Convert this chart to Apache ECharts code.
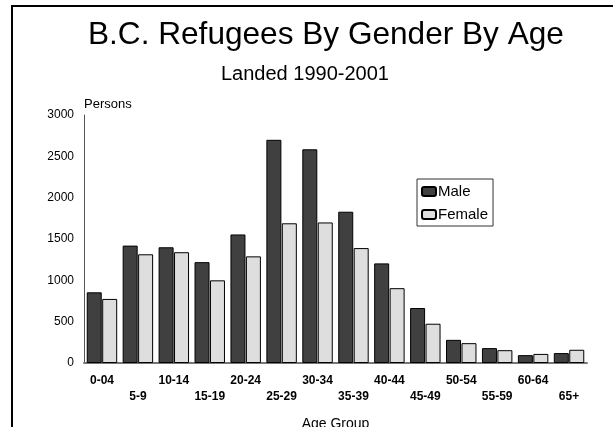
<!DOCTYPE html>
<html>
<head>
<meta charset="utf-8">
<script src="https://cdn.jsdelivr.net/npm/echarts@6/dist/echarts.min.js"></script>
<style>
  html, body { margin: 0; padding: 0; background: #fff; }
  #chart { width: 613px; height: 427px; }
</style>
</head>
<body>
<div id="chart"></div>
<script>
// 数据
var ageGroups = ["0-04", "5-9", "10-14", "15-19", "20-24", "25-29", "30-34",
                 "35-39", "40-44", "45-49", "50-54", "55-59", "60-64", "65+"];
var maleData = [855, 1420, 1400, 1220, 1555, 2700, 2585, 1830, 1205, 665, 280, 180, 95, 120];
var femaleData = [775, 1315, 1340, 1000, 1290, 1690, 1700, 1390, 905, 475, 240, 155, 110, 160];
var yTicks = [0, 500, 1000, 1500, 2000, 2500, 3000];

(function () {
    var font = "'Liberation Sans', Arial, sans-serif";
    var myChart = echarts.init(document.getElementById("chart"));

    var option = {
        backgroundColor: "#fff",
        animation: false,
        title: [
            {
                text: "B.C. Refugees By Gender By Age",
                left: 88,
                top: 19,
                padding: 0,
                textStyle: { fontFamily: font, fontSize: 31.6, fontWeight: "normal", color: "#000" }
            },
            {
                text: "Landed 1990-2001",
                left: 221,
                top: 64,
                padding: 0,
                textStyle: { fontFamily: font, fontSize: 20, fontWeight: "normal", color: "#000" }
            },
            {
                text: "Persons",
                left: 84,
                top: 98,
                padding: 0,
                textStyle: { fontFamily: font, fontSize: 13, fontWeight: "normal", color: "#000" }
            }
        ],
        legend: {
            orient: "vertical",
            left: 417,
            top: 179,
            padding: [5, 5, 4, 4],
            itemWidth: 14,
            itemHeight: 9,
            itemGap: 8,
            borderColor: "#333",
            borderWidth: 1,
            textStyle: { fontFamily: font, fontSize: 15, color: "#000", padding: [0, 0, 0, -3] },
            data: ["Male", "Female"]
        },
        grid: {
            left: 84,
            right: 26,
            top: 115,
            bottom: 64,
            containLabel: false,
            outerBoundsMode: "none"
        },
        xAxis: {
            type: "category",
            data: ageGroups,
            name: "Age Group",
            nameLocation: "middle",
            nameGap: 54,
            nameTextStyle: { fontFamily: font, fontSize: 14, color: "#000" },
            axisTick: { show: false },
            axisLine: { lineStyle: { color: "#777", width: 2 } },
            axisLabel: {
                interval: 0,
                margin: 10,
                lineHeight: 16,
                fontFamily: font,
                fontSize: 12,
                fontWeight: "bold",
                color: "#000",
                // 交错两行显示
                formatter: function (value, index) {
                    return index % 2 === 1 ? "\n" + value : value;
                }
            }
        },
        yAxis: {
            type: "value",
            min: yTicks[0],
            max: yTicks[yTicks.length - 1],
            interval: yTicks[1] - yTicks[0],
            splitLine: { show: false },
            axisTick: { show: false },
            axisLine: { show: true, lineStyle: { color: "#555", width: 1 } },
            axisLabel: {
                margin: 10,
                fontFamily: font,
                fontSize: 12,
                color: "#000",
                formatter: function (v) { return String(v); }
            }
        },
        series: [
            {
                name: "Male",
                type: "bar",
                data: maleData,
                barWidth: 15,
                barGap: "3%",
                itemStyle: { color: "#404040", borderColor: "#000", borderWidth: 1 }
            },
            {
                name: "Female",
                type: "bar",
                data: femaleData,
                barWidth: 15,
                itemStyle: { color: "#dedede", borderColor: "#000", borderWidth: 1 }
            }
        ],
        graphic: [
            {
                type: "polyline",
                silent: true,
                shape: { points: [[12, 427], [12, 6], [613, 6]] },
                style: { stroke: "#000", lineWidth: 2, fill: null }
            }
        ]
    };

    myChart.setOption(option);
    window.addEventListener("resize", function () {
        myChart.resize();
    });
})();
</script>
</body>
</html>
